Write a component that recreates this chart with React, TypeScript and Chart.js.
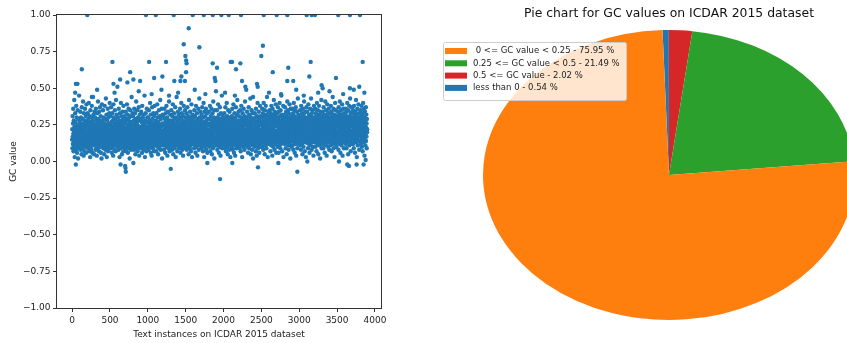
import React, { useEffect, useRef } from 'react';
import { Chart, registerables } from 'chart.js';
Chart.register(...registerables);

// GC values (hundredths) of every second text instance, per block of 500 instances
const gc0000 = [
  15,22,9,31,17,12,26,36,19,7,14,28,21,11,42,16,24,3,18,13,33,20,10,27,15,8,23,38,12,19,30,16,6,22,14,25,11,35,18,2,21,13,29,17,9,24,45,15,20,12,
  19,11,27,16,34,22,8,14,30,20,12,25,5,18,37,13,23,16,9,29,21,15,41,11,26,17,4,19,33,14,24,7,20,12,28,36,16,10,22,18,31,13,6,25,15,39,21,17,11,27,
  12,24,18,33,9,20,15,29,26,13,40,17,7,22,11,31,19,14,25,3,16,35,21,10,27,18,8,23,13,30,38,15,20,6,24,12,28,17,44,19,14,32,11,26,16,5,22,13,34,18,
  21,14,30,17,8,25,12,36,19,23,10,28,15,4,20,33,13,26,18,9,22,41,16,11,29,24,14,7,19,34,12,27,21,15,37,17,10,23,31,13,6,25,18,20,2,28,16,39,12,22,
  16,27,11,22,35,18,9,24,14,30,20,13,5,26,17,38,12,21,29,15,8,23,19,43,10,25,16,32,14,3,20,28,12,24,18,36,11,7,22,15,30,19,13,26,9,33,17,21,40,14,
];
const gc0500 = [
  18,13,25,9,31,20,15,37,12,23,27,16,6,21,14,33,19,10,28,17,24,4,15,39,22,12,30,18,8,26,13,20,35,16,11,29,23,14,7,19,42,25,17,12,32,21,15,27,10,18,
  14,21,30,12,17,26,8,23,36,15,19,11,28,3,24,16,33,20,13,9,25,18,40,14,22,31,10,17,27,5,21,15,34,19,12,24,29,16,7,38,20,13,26,11,18,23,31,14,9,22,
  20,15,27,11,34,18,23,7,16,29,13,21,39,10,25,17,32,14,6,22,19,28,12,36,24,15,9,20,30,13,2,26,17,35,11,23,18,14,31,8,21,27,16,44,12,19,25,15,10,33,
  13,25,17,31,10,22,15,28,19,8,36,14,24,20,11,33,16,26,5,18,29,12,23,41,15,21,9,27,17,13,35,20,25,7,14,30,18,11,24,16,37,22,12,4,28,19,15,32,21,10,
  22,16,9,29,18,13,34,24,11,20,27,15,6,38,17,23,12,30,19,14,25,8,21,32,16,10,26,13,45,18,22,3,28,15,20,11,33,17,24,14,7,27,19,36,12,23,16,30,9,21,
];
const gc1000 = [
  17,24,12,30,15,21,8,35,19,26,13,10,28,22,16,40,11,25,18,6,32,14,20,27,13,4,23,17,37,12,29,19,15,9,24,21,33,16,11,26,18,7,31,14,22,38,15,20,25,12,
  11,19,28,16,23,7,33,14,21,12,26,18,39,10,24,15,30,20,5,17,27,13,22,35,16,9,25,19,12,31,23,14,42,18,8,21,29,15,11,24,17,36,13,20,2,26,16,32,19,14,
  25,14,20,31,11,18,26,8,22,15,36,17,12,29,21,6,24,13,33,19,16,27,10,38,15,23,18,12,30,4,20,25,14,34,17,9,22,28,11,19,41,16,24,13,7,26,21,15,32,18,
  16,23,10,28,19,35,13,21,26,14,8,31,17,24,12,39,20,15,5,27,18,22,11,33,16,29,14,9,25,21,13,37,17,23,3,30,12,19,26,15,44,20,11,24,18,7,28,14,22,34,
  20,12,27,17,32,14,9,24,19,30,11,22,15,36,26,13,6,21,18,29,16,40,10,25,14,33,20,8,23,17,28,12,31,4,19,26,15,38,13,22,18,11,27,24,16,35,9,21,14,30,
];
const gc1500 = [
  14,26,19,11,33,22,16,29,8,24,13,37,18,21,10,27,15,31,20,5,23,17,42,12,28,19,14,9,25,34,16,22,11,30,18,7,24,13,39,20,15,26,3,21,17,32,12,28,19,23,
  23,15,30,12,20,27,9,35,17,24,14,19,31,11,26,6,21,16,38,13,28,18,10,22,33,15,25,4,19,14,29,20,12,36,17,24,8,27,16,21,43,13,30,18,11,23,15,34,20,26,
  17,21,13,28,9,32,19,24,15,37,11,26,20,14,7,30,22,16,40,12,25,18,3,23,34,15,27,10,20,14,31,17,24,12,36,19,8,28,22,16,13,33,21,6,26,18,29,15,11,25,
  19,12,25,34,16,22,10,29,18,14,38,21,7,26,13,31,17,24,11,20,36,15,28,5,23,19,12,33,16,27,9,21,41,14,25,18,30,13,22,2,17,35,20,15,26,11,24,29,16,13,
  15,28,21,11,26,17,35,13,23,8,30,19,14,25,39,12,20,27,16,6,32,22,18,10,24,15,37,29,13,21,4,26,17,33,11,19,28,23,14,45,16,9,25,20,31,12,22,18,27,14,
];
const gc2000 = [
  21,16,29,12,25,33,18,9,23,14,30,20,37,11,26,17,7,22,15,28,13,40,19,24,10,31,16,21,5,27,14,35,18,23,12,29,20,8,25,15,34,17,11,26,22,3,19,30,13,24,
  13,27,18,22,10,31,16,25,36,14,20,8,29,23,15,39,12,24,17,6,28,19,33,11,21,26,14,4,30,18,22,16,37,13,25,9,20,32,17,27,12,42,15,23,19,11,28,21,14,34,
  24,15,20,31,13,26,9,22,17,35,12,28,18,7,25,21,14,38,16,30,11,23,19,3,27,15,33,20,12,24,29,10,18,36,16,22,13,26,8,31,19,14,41,21,17,25,11,28,15,20,
  16,22,12,29,19,34,14,25,10,21,27,17,6,31,23,13,37,18,24,9,20,28,15,32,11,26,19,43,14,22,5,30,16,25,12,35,21,18,8,27,13,23,33,17,20,2,29,15,24,11,
  20,13,28,17,24,10,33,15,22,30,12,26,19,7,36,14,21,27,16,4,25,18,31,11,23,40,15,20,9,29,17,24,13,34,19,22,6,28,14,26,18,38,12,21,16,31,10,25,19,15,
];
const gc2500 = [
  17,25,30,13,21,36,19,10,27,15,33,23,8,28,18,40,14,24,31,12,20,26,5,35,16,22,29,11,19,38,25,14,27,9,32,21,17,44,13,24,30,16,3,22,28,18,34,12,26,20,
  23,14,29,19,35,12,26,31,17,22,7,33,15,28,20,11,38,24,18,30,13,25,4,21,36,16,27,19,10,32,23,15,42,29,14,20,26,8,34,18,24,12,31,17,28,39,21,15,6,27,
  14,28,21,33,17,25,10,30,19,37,24,13,29,16,6,34,22,27,11,20,40,18,26,15,31,9,23,35,17,28,12,21,45,19,25,14,32,7,27,20,16,30,24,13,38,22,3,29,18,26,
  26,17,32,20,12,28,37,15,23,30,9,25,19,34,14,27,21,5,31,16,24,41,13,29,22,18,35,11,26,20,8,33,15,28,23,17,39,12,25,30,19,2,27,14,36,21,16,31,24,10,
  19,30,14,25,36,21,11,28,17,33,23,8,27,15,40,20,26,13,31,18,6,24,35,16,29,22,12,37,19,25,4,30,14,27,21,34,17,9,28,23,15,43,20,26,12,32,18,24,29,13,
];
const gc3000 = [
  22,15,31,18,27,11,35,20,25,14,29,8,23,38,16,30,19,12,26,33,17,5,24,21,36,13,28,19,10,32,25,15,41,22,18,27,7,30,14,24,34,20,16,29,3,26,13,37,21,17,
  16,28,20,34,13,25,30,18,9,23,39,15,27,21,12,32,17,26,6,29,22,14,36,19,24,11,31,16,43,20,27,13,8,33,23,18,28,15,35,21,10,26,30,14,4,24,19,38,17,25,
  25,18,30,13,22,36,16,28,10,24,33,20,14,27,7,31,19,40,15,26,22,12,29,35,17,23,5,30,20,14,38,25,18,11,32,21,27,15,2,24,34,16,29,19,13,26,42,22,9,28,
  20,31,15,26,12,34,22,18,29,9,24,37,16,27,21,13,32,19,6,25,30,14,41,23,17,28,11,35,20,26,15,4,31,18,24,39,13,27,22,16,33,10,25,29,19,36,14,21,8,30,
  14,24,33,19,27,11,30,22,16,38,25,13,28,20,7,34,18,26,31,15,23,44,12,29,21,17,36,9,25,19,32,14,27,3,22,30,16,40,24,18,28,12,35,21,15,26,10,31,20,17,
];
const gc3500 = [
  21,29,16,34,24,13,31,19,26,8,37,22,15,28,20,33,12,25,41,18,30,14,6,27,23,35,17,21,29,11,32,24,16,39,19,26,4,30,15,22,28,36,13,25,20,9,33,18,27,14,
  27,17,23,32,14,29,20,36,12,25,31,18,9,34,22,16,28,40,19,24,13,30,26,5,21,35,15,28,18,23,38,11,31,20,27,16,43,24,14,29,7,33,21,17,26,30,12,37,19,25,
  15,26,33,20,28,12,35,23,17,30,9,25,38,18,22,14,31,27,6,24,19,34,16,29,21,42,13,26,32,18,3,23,28,15,36,20,25,11,30,17,22,39,14,27,19,33,8,24,21,29,
  24,18,30,14,27,35,21,12,32,25,16,38,19,28,10,23,33,17,26,7,31,20,40,15,24,29,13,36,22,18,27,4,30,16,34,21,25,11,28,19,37,14,23,32,17,26,9,29,20,22,
];
const bandSegments = [gc0000, gc0500, gc1000, gc1500, gc2000, gc2500, gc3000, gc3500];
const segmentStarts = [0, 500, 1000, 1500, 2000, 2500, 3000, 3500];
const instanceStep = 2;

// instances with GC value 1.0 (top of the plot)
const topX = [200, 975, 1105, 1342, 1593, 1739, 1858, 1971, 2069, 2231, 2531, 2702, 2842, 3098, 3164, 3208, 3515, 3670, 3802];
// high outliers (>= 0.5)
const highX = [1540, 1474, 1681, 2520, 2499, 532, 1017, 1240, 2095, 3151, 3838, 128, 1496, 1506, 1512, 1505, 1857, 1914, 2112, 2222, 2165, 766, 2650, 2855, 49, 70, 546, 634, 730, 809, 898, 1083, 1192, 598, 1350, 1430, 1443, 1490, 1884, 1892, 2244, 2288, 2442, 2451, 2842, 2921, 3133, 3485, 3296, 3309, 3793, 3670];
const highY = [0.91, 0.80, 0.78, 0.79, 0.72, 0.68, 0.68, 0.68, 0.68, 0.68, 0.68, 0.63, 0.72, 0.69, 0.67, 0.61, 0.67, 0.64, 0.68, 0.67, 0.63, 0.61, 0.61, 0.64, 0.53, 0.53, 0.53, 0.56, 0.54, 0.56, 0.55, 0.57, 0.58, 0.51, 0.55, 0.55, 0.58, 0.55, 0.57, 0.55, 0.55, 0.51, 0.53, 0.51, 0.55, 0.55, 0.58, 0.57, 0.52, 0.50, 0.51, 0.50];
// upper scattered values (0.44 - 0.49)
const upperX = [40, 260, 330, 560, 880, 1050, 1180, 1280, 1400, 1620, 1760, 1900, 2020, 2150, 2300, 2390, 2600, 2760, 2960, 3060, 3250, 3400, 3580, 3720, 3860];
const upperY = [0.47, 0.44, 0.49, 0.47, 0.48, 0.46, 0.49, 0.45, 0.47, 0.49, 0.46, 0.48, 0.47, 0.45, 0.49, 0.44, 0.47, 0.46, 0.49, 0.45, 0.47, 0.48, 0.46, 0.49, 0.47];
// lowest values (around and below 0)
const lowX = [49, 700, 705, 709, 1303, 1954, 2455, 2975, 3634, 3657, 3758, 809, 2116, 1786, 2724, 3107, 3525, 3877, 640, 3850];
const lowY = [-0.02, -0.03, -0.045, -0.07, -0.05, -0.12, -0.04, -0.07, -0.02, -0.03, -0.02, -0.01, -0.01, -0.01, -0.01, 0.0, 0.0, 0.01, -0.02, -0.02];

const xTickValues = [0, 500, 1000, 1500, 2000, 2500, 3000, 3500, 4000];
const yTickValues = [-1, -0.75, -0.5, -0.25, 0, 0.25, 0.5, 0.75, 1];

const pieRanges = [' 0 <= GC value < 0.25', '0.25 <= GC value < 0.5', '0.5 <= GC value', 'less than 0'];
const piePercents = [75.95, 21.49, 2.02, 0.54];
const pieColors = ['#ff7f0e', '#2ca02c', '#d62728', '#1f77b4'];

const PIE_ASPECT = 186 / 145;
const TEXT = '#222222';

const framePlugin = {
  id: 'frame',
  afterDraw(chart: any) {
    const { ctx, chartArea: a } = chart;
    ctx.save();
    ctx.strokeStyle = '#333333';
    ctx.lineWidth = 1;
    ctx.strokeRect(Math.round(a.left) - 0.5, Math.round(a.top) - 0.5, Math.round(a.right - a.left) + 1, Math.round(a.bottom - a.top) + 1);
    ctx.restore();
  },
};

const ellipsePlugin = {
  id: 'ellipse',
  beforeDatasetsDraw(chart: any) {
    const arc = chart.getDatasetMeta(0).data[0];
    const ctx = chart.ctx;
    ctx.save();
    ctx.translate(arc.x, arc.y);
    ctx.scale(PIE_ASPECT, 1);
    ctx.translate(-arc.x, -arc.y);
  },
  afterDatasetsDraw(chart: any) {
    chart.ctx.restore();
  },
};

const legendBoxPlugin = {
  id: 'legendBox',
  afterDraw(chart: any) {
    const ctx = chart.ctx;
    ctx.save();
    const bx = 23.5, by = 42.5, bw = 183, bh = 58;
    ctx.beginPath();
    if (ctx.roundRect) ctx.roundRect(bx, by, bw, bh, 2);
    else ctx.rect(bx, by, bw, bh);
    ctx.fillStyle = 'rgba(255,255,255,0.8)';
    ctx.fill();
    ctx.strokeStyle = '#cccccc';
    ctx.lineWidth = 1;
    ctx.stroke();
    ctx.font = "8.5px 'DejaVu Sans'";
    ctx.textBaseline = 'middle';
    ctx.textAlign = 'left';
    pieRanges.forEach((r, i) => {
      const y = 51 + i * 12.3;
      ctx.fillStyle = pieColors[i];
      ctx.fillRect(25, y - 3, 22, 6);
      ctx.fillStyle = TEXT;
      ctx.fillText(`${r} - ${piePercents[i].toFixed(2)} %`, 53, y);
    });
    ctx.restore();
  },
};

export default function App() {
  const scatterRef = useRef<HTMLCanvasElement>(null);
  const pieRef = useRef<HTMLCanvasElement>(null);

  useEffect(() => {
    Chart.defaults.font.family = "'DejaVu Sans', sans-serif";
    const points: { x: number; y: number }[] = [];
    bandSegments.forEach((seg, s) => {
      seg.forEach((v, i) => points.push({ x: segmentStarts[s] + i * instanceStep, y: v / 100 }));
    });
    topX.forEach((x) => points.push({ x, y: 1 }));
    highX.forEach((x, i) => points.push({ x, y: highY[i] }));
    upperX.forEach((x, i) => points.push({ x, y: upperY[i] }));
    lowX.forEach((x, i) => points.push({ x, y: lowY[i] }));

    const scatter = new Chart(scatterRef.current!, {
      type: 'scatter',
      data: {
        datasets: [
          {
            data: points,
            backgroundColor: '#1f77b4',
            borderWidth: 0,
            pointRadius: 2.2,
            pointHoverRadius: 2.2,
            clip: 0,
          } as any,
        ],
      },
      options: {
        responsive: false,
        animation: false,
        events: [],
        layout: { padding: { top: 15, right: 39, left: 0, bottom: 0 } },
        plugins: { legend: { display: false }, tooltip: { enabled: false } },
        scales: {
          x: {
            type: 'linear',
            min: -200,
            max: 4080,
            afterFit: (s: any) => { s.height = 35; },
            afterBuildTicks: (s: any) => { s.ticks = xTickValues.map((v) => ({ value: v })); },
            ticks: { color: TEXT, font: { size: 9 }, padding: 3, maxRotation: 0, autoSkip: false, callback: (v: any) => String(v) },
            grid: { display: true, drawOnChartArea: false, drawTicks: true, tickLength: 4, color: '#333333' },
            border: { display: false },
            title: { display: true, text: 'Text instances on ICDAR 2015 dataset', color: TEXT, font: { size: 9 }, padding: { top: 0, bottom: 3 } },
          },
          y: {
            type: 'linear',
            min: -1,
            max: 1,
            afterFit: (s: any) => { s.width = 57; },
            afterBuildTicks: (s: any) => { s.ticks = yTickValues.map((v) => ({ value: v })); },
            ticks: {
              color: TEXT,
              font: { size: 9 },
              padding: 2.5,
              autoSkip: false,
              callback: (v: any) => (v < 0 ? '\u2212' : '') + Math.abs(v).toFixed(2),
            },
            grid: { display: true, drawOnChartArea: false, drawTicks: true, tickLength: 4, color: '#333333' },
            border: { display: false },
            title: { display: true, text: 'GC value', color: TEXT, font: { size: 9 }, padding: { top: 8.6, bottom: 0 } },
          },
        },
      } as any,
      plugins: [framePlugin],
    });

    const pie = new Chart(pieRef.current!, {
      type: 'pie',
      data: {
        labels: [...pieRanges].reverse(),
        datasets: [
          {
            data: [...piePercents].reverse(),
            backgroundColor: [...pieColors].reverse(),
            borderWidth: 0,
            clip: false,
          } as any,
        ],
      },
      options: {
        responsive: false,
        animation: false,
        events: [],
        rotation: -2,
        layout: { padding: { left: 104, right: 33, top: 0, bottom: 23 } },
        plugins: {
          legend: { display: false },
          tooltip: { enabled: false },
          title: {
            display: true,
            text: 'Pie chart for GC values on ICDAR 2015 dataset',
            color: '#111111',
            font: { size: 13, weight: 'normal' },
            fullSize: false,
            padding: { top: 6.2, bottom: 8.2 },
          },
        },
      } as any,
      plugins: [ellipsePlugin, legendBoxPlugin],
    });

    return () => {
      scatter.destroy();
      pie.destroy();
    };
  }, []);

  return (
    <div style={{ position: 'absolute', left: 0, top: 0, width: 847, height: 343, background: '#ffffff', overflow: 'hidden' }}>
      <canvas ref={scatterRef} width={420} height={343} style={{ position: 'absolute', left: 0, top: 0 }} />
      <canvas ref={pieRef} width={427} height={343} style={{ position: 'absolute', left: 420, top: 0 }} />
    </div>
  );
}
